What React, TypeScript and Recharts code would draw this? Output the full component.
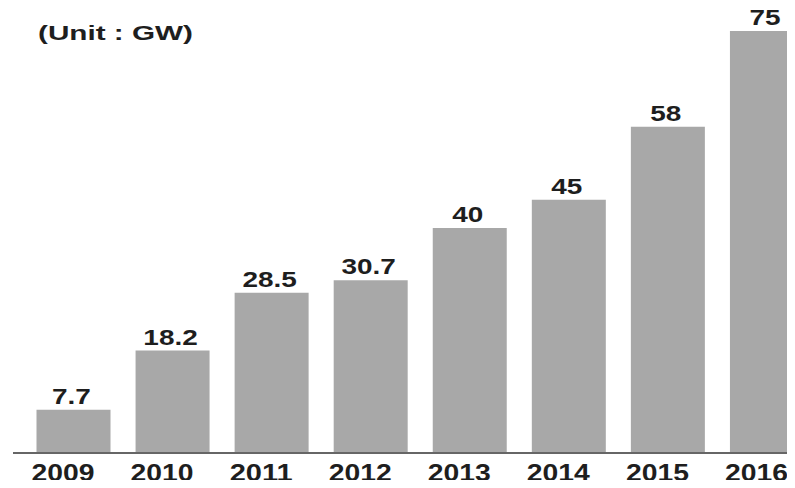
import { BarChart, Bar, XAxis, YAxis, LabelList } from "recharts";

const years = ["2009", "2010", "2011", "2012", "2013", "2014", "2015", "2016"];
const capacity = [7.7, 18.2, 28.5, 30.7, 40, 45, 58, 75];
const unitLabel = "(Unit : GW)";

const data = years.map((year, i) => ({ year, value: capacity[i] }));

const FONT = "'Liberation Sans', Arial, sans-serif";

// rough width of bold Arial digits / dots, used to stretch the text like the source
const textWidth = (s: string, size: number) =>
  s.split("").reduce((w, c) => w + (c === "." ? 0.278 : 0.556) * size, 0);

const YearTick = (props: any) => {
  const { x, y, payload } = props;
  return (
    <text
      x={x - 10}
      y={y + 28}
      textAnchor="middle"
      fontFamily={FONT}
      fontWeight="bold"
      fontSize={24}
      fill="#1e1e1e"
      textLength={63}
      lengthAdjust="spacingAndGlyphs"
    >
      {payload.value}
    </text>
  );
};

const ValueLabel = (props: any) => {
  const { x, y, width, value } = props;
  const s = String(value);
  return (
    <text
      x={x + width / 2 - 2}
      y={y - 6}
      textAnchor="middle"
      fontFamily={FONT}
      fontWeight="bold"
      fontSize={22}
      fill="#1e1e1e"
      textLength={textWidth(s, 22) * 1.27}
      lengthAdjust="spacingAndGlyphs"
    >
      {s}
    </text>
  );
};

export default function App() {
  return (
    <div
      style={{
        margin: -8,
        width: 795,
        height: 488,
        overflow: "hidden",
        position: "relative",
        background: "#fff",
      }}
    >
      <svg
        width={795}
        height={488}
        style={{ position: "absolute", left: 0, top: 0, pointerEvents: "none" }}
      >
        <text
          x={38}
          y={40}
          fontFamily={FONT}
          fontWeight="bold"
          fontSize={20}
          fill="#1e1e1e"
          textLength={155}
          lengthAdjust="spacingAndGlyphs"
        >
          {unitLabel}
        </text>
      </svg>
      <BarChart
        width={816}
        height={488}
        data={data}
        margin={{ top: 31, right: 0, left: 13, bottom: 0 }}
      >
        <XAxis
          dataKey="year"
          height={35}
          padding={{ left: 10.5, right: 0 }}
          axisLine={{ stroke: "#666", strokeWidth: 2 }}
          tickLine={false}
          tickSize={0}
          tickMargin={0}
          interval={0}
          tick={<YearTick />}
        />
        <YAxis hide domain={[0, 75]} />
        <Bar dataKey="value" fill="#a8a8a8" barSize={74} isAnimationActive={false}>
          <LabelList dataKey="value" content={<ValueLabel />} />
        </Bar>
      </BarChart>
    </div>
  );
}
